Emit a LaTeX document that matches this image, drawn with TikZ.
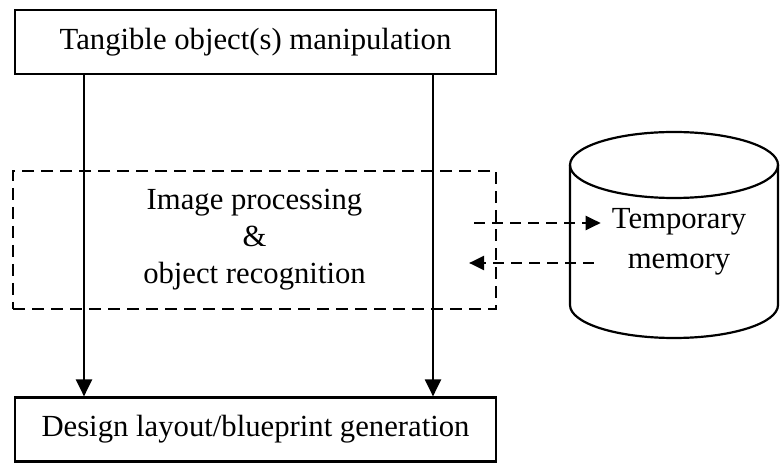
\documentclass[tikz,border=0pt]{standalone}
\usepackage{fontspec}
\setmainfont{Liberation Serif}
\usetikzlibrary{arrows.meta}
\tikzset{
  solidbox/.style={draw, line width=2.2pt, minimum width=481pt, minimum height=64pt, inner sep=0pt,
    font=\fontsize{30.7}{37}\selectfont},
  dashbox/.style={draw, line width=2.2pt, dash pattern=on 12pt off 7pt, minimum width=483pt, minimum height=138pt,
    inner sep=0pt, align=center, font=\fontsize{30.7}{37}\selectfont},
  flowarrow/.style={line width=2.2pt, -{Triangle[length=17pt,width=16pt]}},
  dasharrow/.style={line width=2.2pt, dash pattern=on 11pt off 7pt, -{Triangle[length=15pt,width=14pt]}},
  memtext/.style={align=center, font=\fontsize{30.7}{40}\selectfont, inner sep=0pt},
  cyl/.style={line width=2.2pt}
}
\begin{document}
\begin{tikzpicture}[x=1pt,y=1pt]
\useasboundingbox (0,0) rectangle (781,463);
\node[solidbox] (top) at (255.5,421) {Tangible object(s) manipulation};
\node[solidbox] (bottom) at (255.5,33.5) {Design layout/blueprint generation};
\node[dashbox] (proc) at (254.5,223) {Image processing\\\&\\object recognition};
% cylinder
\draw[cyl] (570,298) -- (570,158) arc[start angle=180,end angle=360,x radius=104,y radius=33] -- (778,298);
\draw[cyl] (674,298) ellipse [x radius=104,y radius=33];
\node[memtext] (mem) at (679,221) {Temporary\\memory};
% vertical arrows
\draw[flowarrow] ([xshift=-171.5pt]top.south) -- ([xshift=-171.5pt]bottom.north);
\draw[flowarrow] ([xshift=177.5pt]top.south) -- ([xshift=177.5pt]bottom.north);
% dashed arrows
\coordinate (a1s) at ([xshift=-23pt]proc.east |- 0,240);
\coordinate (a1e) at ([xshift=-11pt]mem.west |- 0,240);
\coordinate (a2s) at ([xshift=-18pt]mem.west |- 0,200);
\coordinate (a2e) at ([xshift=-28pt]proc.east |- 0,200);
\draw[dasharrow] (a1s) -- (a1e);
\draw[dasharrow] (a2s) -- (a2e);
\end{tikzpicture}
\end{document}
